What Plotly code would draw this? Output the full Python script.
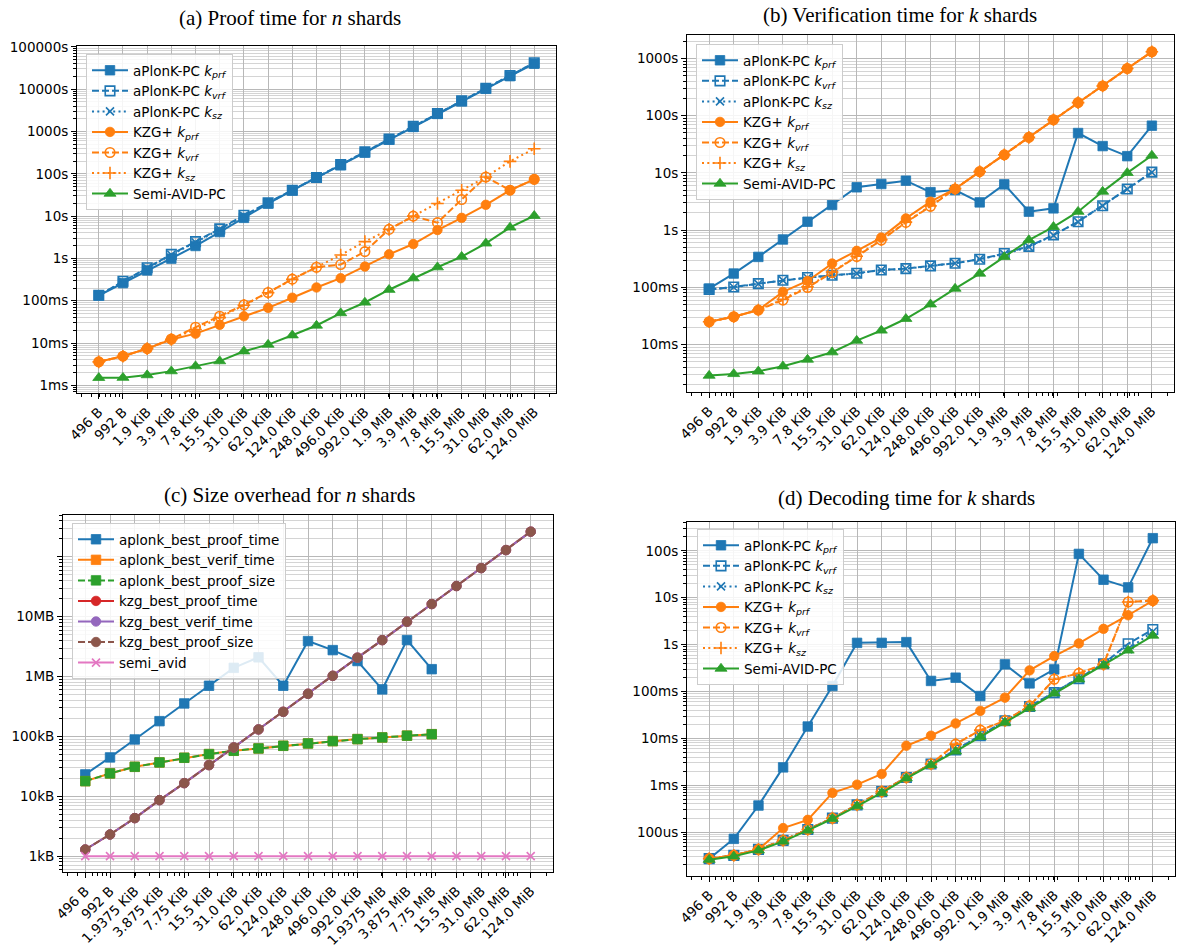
import plotly.graph_objects as go

# ---------------- data ----------------
sizes = [496, 992, 1984, 3968, 7936, 15872, 31744, 63488, 126976, 253952, 507904,
         1015808, 2031616, 4063232, 8126464, 16252928, 32505856, 65011712, 130023424]

labels_ab = ["496 B", "992 B", "1.9 KiB", "3.9 KiB", "7.8 KiB", "15.5 KiB", "31.0 KiB",
             "62.0 KiB", "124.0 KiB", "248.0 KiB", "496.0 KiB", "992.0 KiB", "1.9 MiB",
             "3.9 MiB", "7.8 MiB", "15.5 MiB", "31.0 MiB", "62.0 MiB", "124.0 MiB"]
labels_c = ["496 B", "992 B", "1.9375 KiB", "3.875 KiB", "7.75 KiB", "15.5 KiB", "31.0 KiB",
            "62.0 KiB", "124.0 KiB", "248.0 KiB", "496.0 KiB", "992.0 KiB", "1.9375 MiB",
            "3.875 MiB", "7.75 MiB", "15.5 MiB", "31.0 MiB", "62.0 MiB", "124.0 MiB"]

# (a) proof time [s]
a_aplonk_prf = [0.133, 0.261, 0.52, 0.99, 1.97, 4.2, 9.1, 19.8, 40.5, 82, 160, 317, 640, 1280, 2600, 5200, 10200, 20300, 40000]
a_aplonk_vrf = [0.135, 0.29, 0.60, 1.25, 2.5, 5.0, 10.5, 20.5, 41, 82, 165, 330, 660, 1320, 2650, 5300, 10500, 21000, 42000]
a_aplonk_sz = [0.135, 0.28, 0.59, 1.22, 2.4, 4.9, 10.2, 20.5, 41, 82, 165, 330, 660, 1320, 2650, 5300, 10500, 21000, 42000]
a_kzg_prf = [0.0036, 0.0049, 0.0074, 0.0121, 0.0167, 0.027, 0.043, 0.068, 0.118, 0.206, 0.341, 0.643, 1.25, 2.19, 4.69, 9.1, 18.5, 40.9, 74]
a_kzg_vrf = [0.0036, 0.0049, 0.0074, 0.0125, 0.0236, 0.043, 0.080, 0.157, 0.324, 0.62, 0.716, 1.45, 4.85, 10.0, 7.0, 24.7, 84, 41, 74]
a_kzg_sz = [0.0036, 0.0049, 0.0074, 0.0122, 0.021, 0.040, 0.078, 0.155, 0.32, 0.62, 1.21, 2.49, 4.85, 10.0, 19.9, 40.9, 84, 197, 391]
a_semi = [0.00151, 0.00152, 0.00175, 0.00217, 0.00285, 0.00374, 0.0064, 0.0092, 0.0153, 0.026, 0.051, 0.091, 0.182, 0.341, 0.62, 1.1, 2.27, 5.4, 10.2]

# (b) verification time [s]
b_aplonk_prf = [0.095, 0.174, 0.34, 0.685, 1.40, 2.75, 5.6, 6.4, 7.3, 4.6, 5.0, 3.05, 6.3, 2.1, 2.4, 49.7, 29.4, 19.6, 66.8]
b_aplonk_vrf = [0.092, 0.101, 0.116, 0.133, 0.148, 0.162, 0.176, 0.201, 0.212, 0.237, 0.264, 0.31, 0.39, 0.52, 0.82, 1.40, 2.67, 5.24, 10.3]
b_aplonk_sz = [0.092, 0.100, 0.115, 0.132, 0.147, 0.161, 0.175, 0.200, 0.211, 0.236, 0.263, 0.31, 0.38, 0.51, 0.81, 1.39, 2.65, 5.2, 10.2]
b_kzg_prf = [0.025, 0.0306, 0.040, 0.083, 0.129, 0.26, 0.434, 0.74, 1.60, 3.14, 5.24, 10.5, 20.7, 41.7, 85, 169, 331, 668, 1310]
b_kzg_vrf = [0.025, 0.0306, 0.040, 0.060, 0.099, 0.181, 0.345, 0.668, 1.36, 2.6, 5.24, 10.5, 20.7, 41.7, 85, 169, 331, 668, 1310]
b_kzg_sz = [0.025, 0.0306, 0.040, 0.062, 0.102, 0.185, 0.35, 0.68, 1.38, 2.65, 5.3, 10.5, 20.7, 41.7, 85, 169, 331, 668, 1310]
b_semi = [0.00286, 0.00306, 0.0034, 0.00417, 0.00546, 0.00733, 0.0117, 0.0176, 0.0282, 0.0504, 0.095, 0.174, 0.34, 0.668, 1.14, 2.1, 4.71, 10.0, 20.1]

# (c) size overhead [B]
c_aplonk_proof_time = [23200, 44600, 89000, 180000, 356000, 703000, 1400000, 2100000, 703000, 3920000, 2770000, 1820000, 611000, 4070000, 1330000]
c_aplonk_verif_time = [17900, 24100, 31100, 36800, 44000, 50700, 57600, 63000, 69800, 76400, 83600, 90200, 96200, 103000, 109000]
c_aplonk_proof_size = [17900, 24100, 31100, 36800, 44000, 50700, 57600, 63000, 69800, 76400, 83600, 90200, 96200, 103000, 109000]
c_kzg_proof_time = [1290, 2300, 4320, 8630, 16600, 33200, 65500, 131000, 258000, 516000, 1030000, 2070000, 4070000, 8250000, 16300000, 32600000, 65000000, 130000000, 264000000]
c_kzg_verif_time = [1290, 2300, 4320, 8630, 16600, 33200, 65500, 131000, 258000, 516000, 1030000, 2070000, 4070000, 8250000, 16300000, 32600000, 65000000, 130000000, 264000000]
c_kzg_proof_size = [1290, 2300, 4320, 8630, 16600, 33200, 65500, 131000, 258000, 516000, 1030000, 2070000, 4070000, 8250000, 16300000, 32600000, 65000000, 130000000, 264000000]
c_semi = [1000, 1000, 1000, 1000, 1000, 1000, 1000, 1000, 1000, 1000, 1000, 1000, 1000, 1000, 1000, 1000, 1000, 1000, 1000]

# (d) decoding time [s]
d_aplonk_prf = [27.2e-6, 72e-6, 370e-6, 2.41e-3, 17.9e-3, 0.131, 1.09, 1.09, 1.13, 0.168, 0.197, 0.080, 0.379, 0.149, 0.296, 86, 24.2, 16.6, 186]
d_aplonk_vrf = [27.2e-6, 32e-6, 43e-6, 66.7e-6, 114e-6, 199e-6, 382e-6, 733e-6, 1.46e-3, 2.84e-3, 5.64e-3, 11.4e-3, 23.7e-3, 47.7e-3, 94.6e-3, 0.188, 0.391, 1.04, 2.1]
d_aplonk_sz = [27.2e-6, 32e-6, 43e-6, 66.7e-6, 114e-6, 199e-6, 382e-6, 733e-6, 1.46e-3, 2.84e-3, 5.64e-3, 11.4e-3, 23.7e-3, 47.7e-3, 94.6e-3, 0.188, 0.391, 0.8, 1.9]
d_kzg_prf = [27.2e-6, 32e-6, 43e-6, 122e-6, 183e-6, 687e-6, 1.03e-3, 1.74e-3, 6.97e-3, 11.4e-3, 20.8e-3, 38.6e-3, 74e-3, 0.282, 0.569, 1.06, 2.17, 4.23, 8.67]
d_kzg_vrf = [27.2e-6, 32e-6, 43e-6, 66.7e-6, 114e-6, 199e-6, 382e-6, 733e-6, 1.46e-3, 2.84e-3, 7.55e-3, 15e-3, 23.7e-3, 49.3e-3, 0.182, 0.244, 0.379, 8.1, 8.67]
d_kzg_sz = [27.2e-6, 32e-6, 43e-6, 66.7e-6, 114e-6, 199e-6, 382e-6, 733e-6, 1.46e-3, 2.84e-3, 7.55e-3, 15e-3, 23.7e-3, 49.3e-3, 0.182, 0.244, 0.379, 8.1, 8.67]
d_semi = [25.9e-6, 30.5e-6, 40.9e-6, 63.5e-6, 109e-6, 193e-6, 358e-6, 687e-6, 1.41e-3, 2.7e-3, 5.27e-3, 10.8e-3, 21.8e-3, 44e-3, 91.6e-3, 0.182, 0.36, 0.75, 1.56]

# y tick labels
yt_a_vals = [1e-3, 1e-2, 1e-1, 1, 10, 100, 1e3, 1e4, 1e5]
yt_a_text = ["1ms", "10ms", "100ms", "1s", "10s", "100s", "1000s", "10000s", "100000s"]
yt_b_vals = [1e-2, 1e-1, 1, 10, 100, 1e3]
yt_b_text = ["10ms", "100ms", "1s", "10s", "100s", "1000s"]
yt_c_vals = [1e3, 1e4, 1e5, 1e6, 1e7, 1e8]
yt_c_text = ["1kB", "10kB", "100kB", "1MB", "10MB", ""]
yt_d_vals = [1e-4, 1e-3, 1e-2, 1e-1, 1, 10, 100]
yt_d_text = ["100us", "1ms", "10ms", "100ms", "1s", "10s", "100s"]

# ---------------- styling ----------------
W, H = 1184, 951
BLUE, ORANGE, GREEN = "#1f77b4", "#ff7f0e", "#2ca02c"
RED, PURPLE, BROWN, PINK = "#d62728", "#9467bd", "#8c564b", "#e377c2"
DASH = "7px,3px"
DOT = "2px,3.3px"
FONT = "DejaVu Sans"
FS = 13.5


def minor_vals(lo, hi):
    out = []
    for e in range(lo, hi):
        for d in range(2, 10):
            out.append(d * 10.0 ** e)
    return out


def dx(a, b):
    return [a / W, b / W]


def dy(top, bot):
    return [1 - bot / H, 1 - top / H]


fig = go.Figure()


def add(ax, leg, name, y, color, dash, symbol, size, group):
    open_sym = symbol.endswith("-open") or symbol.endswith("-thin")
    fig.add_trace(go.Scatter(
        x=sizes[:len(y)], y=y, name=name, mode="lines+markers",
        xaxis="x" + ax, yaxis="y" + ax, legend=leg, legendgroup=group,
        line=dict(color=color, width=2, dash=dash),
        marker=dict(symbol=symbol, size=size, color=color,
                    line=dict(color=color, width=1.6 if open_sym else 0.8)),
        hoverinfo="skip"))


def k(sub):
    return "<i>k</i><sub><i>%s</i></sub>" % sub


def std_panel(ax, leg, prf, vrf, sz, kprf, kvrf, ksz, semi):
    add(ax, leg, "aPlonK-PC " + k("prf"), prf, BLUE, "solid", "square", 9.5, leg + "1")
    add(ax, leg, "aPlonK-PC " + k("vrf"), vrf, BLUE, DASH, "square-open", 9.5, leg + "2")
    add(ax, leg, "aPlonK-PC " + k("sz"), sz, BLUE, DOT, "x-thin", 8, leg + "3")
    add(ax, leg, "KZG+ " + k("prf"), kprf, ORANGE, "solid", "circle", 9.5, leg + "4")
    add(ax, leg, "KZG+ " + k("vrf"), kvrf, ORANGE, DASH, "circle-open", 9.5, leg + "5")
    add(ax, leg, "KZG+ " + k("sz"), ksz, ORANGE, DOT, "cross-thin", 9, leg + "6")
    add(ax, leg, "Semi-AVID-PC", semi, GREEN, "solid", "triangle-up", 10.5, leg + "7")


std_panel("", "legend", a_aplonk_prf, a_aplonk_vrf, a_aplonk_sz, a_kzg_prf, a_kzg_vrf, a_kzg_sz, a_semi)
std_panel("2", "legend2", b_aplonk_prf, b_aplonk_vrf, b_aplonk_sz, b_kzg_prf, b_kzg_vrf, b_kzg_sz, b_semi)

add("3", "legend3", "aplonk_best_proof_time", c_aplonk_proof_time, BLUE, "solid", "square", 9.5, "c1")
add("3", "legend3", "aplonk_best_verif_time", c_aplonk_verif_time, ORANGE, "solid", "square", 9.5, "c2")
add("3", "legend3", "aplonk_best_proof_size", c_aplonk_proof_size, GREEN, DASH, "square", 9.5, "c3")
add("3", "legend3", "kzg_best_proof_time", c_kzg_proof_time, RED, "solid", "circle", 9.5, "c4")
add("3", "legend3", "kzg_best_verif_time", c_kzg_verif_time, PURPLE, "solid", "circle", 9.5, "c5")
add("3", "legend3", "kzg_best_proof_size", c_kzg_proof_size, BROWN, DASH, "circle", 9.5, "c6")
add("3", "legend3", "semi_avid", c_semi, PINK, "solid", "x-thin", 8, "c7")

std_panel("4", "legend4", d_aplonk_prf, d_aplonk_vrf, d_aplonk_sz, d_kzg_prf, d_kzg_vrf, d_kzg_sz, d_semi)

XR = [2.4246, 8.385]
xminor = [v for v in minor_vals(2, 9) if 10 ** XR[0] < v < 10 ** XR[1]]


def xcfg(domain, anchor, labels):
    return dict(type="log", domain=domain, anchor=anchor, range=XR, automargin=False,
                tickmode="array", tickvals=sizes, ticktext=labels, tickangle=-45,
                ticks="outside", ticklen=5, tickwidth=1, tickcolor="black",
                showline=True, mirror=True, linecolor="black", linewidth=1,
                showgrid=True, gridcolor="#b8b8b8", gridwidth=1, zeroline=False,
                tickfont=dict(family=FONT, size=FS, color="black"),
                minor=dict(tickmode="array", tickvals=xminor, ticks="outside",
                           ticklen=3, tickwidth=1, tickcolor="black", showgrid=False))


def ycfg(domain, anchor, rng, vals, text):
    lo, hi = int(rng[0]) - 1, int(rng[1]) + 1
    ym = [v for v in minor_vals(lo, hi) if 10 ** rng[0] < v < 10 ** rng[1]]
    return dict(type="log", domain=domain, anchor=anchor, range=rng, automargin=False,
                tickmode="array", tickvals=vals, ticktext=text,
                ticks="outside", ticklen=5, tickwidth=1, tickcolor="black",
                showline=True, mirror=True, linecolor="black", linewidth=1,
                showgrid=True, gridcolor="#b8b8b8", gridwidth=1, zeroline=False,
                tickfont=dict(family=FONT, size=FS, color="black"),
                minor=dict(tickmode="array", tickvals=ym, ticks="outside",
                           ticklen=3, tickwidth=1, tickcolor="black",
                           showgrid=True, gridcolor="#d4d4d4", gridwidth=1))


def legcfg(x, y):
    return dict(x=x / W, y=1 - y / H, xanchor="left", yanchor="top",
                bgcolor="rgba(255,255,255,0.85)", bordercolor="#cccccc", borderwidth=1,
                font=dict(family=FONT, size=FS, color="black"),
                tracegroupgap=3.5, itemwidth=36, traceorder="normal")


fig.update_layout(
    width=W, height=H, autosize=False,
    margin=dict(l=0, r=0, t=0, b=0, autoexpand=False),
    paper_bgcolor="white", plot_bgcolor="white",
    xaxis=xcfg(dx(77, 556), "y", labels_ab),
    yaxis=ycfg(dy(46, 393), "x", [-3.18, 5.02], yt_a_vals, yt_a_text),
    xaxis2=xcfg(dx(687, 1174), "y2", labels_ab),
    yaxis2=ycfg(dy(35, 392), "x2", [-2.83, 3.41], yt_b_vals, yt_b_text),
    xaxis3=xcfg(dx(63, 553), "y3", labels_c),
    yaxis3=ycfg(dy(515, 872), "x3", [2.735, 8.70], yt_c_vals, yt_c_text),
    xaxis4=xcfg(dx(687, 1175), "y4", labels_ab),
    yaxis4=ycfg(dy(522, 876), "x4", [-4.935, 2.615], yt_d_vals, yt_d_text),
    legend=legcfg(86, 54),
    legend2=legcfg(696, 44),
    legend3=legcfg(72, 523),
    legend4=legcfg(697, 529),
    showlegend=True,
)

titles = [
    ("(a) Proof time for <i>n</i> shards", 290, 18),
    ("(b) Verification time for <i>k</i> shards", 900, 15),
    ("(c) Size overhead for <i>n</i> shards", 289, 495),
    ("(d) Decoding time for <i>k</i> shards", 906, 498),
]
for t, x, y in titles:
    fig.add_annotation(text=t, x=x / W, y=1 - y / H, xref="paper", yref="paper",
                       xanchor="center", yanchor="middle", showarrow=False,
                       font=dict(family="Liberation Serif", size=21, color="black"))

fig.write_html("out.html", config={"displayModeBar": False},
               post_script="document.body.style.margin='0px';document.body.style.overflow='hidden';")
